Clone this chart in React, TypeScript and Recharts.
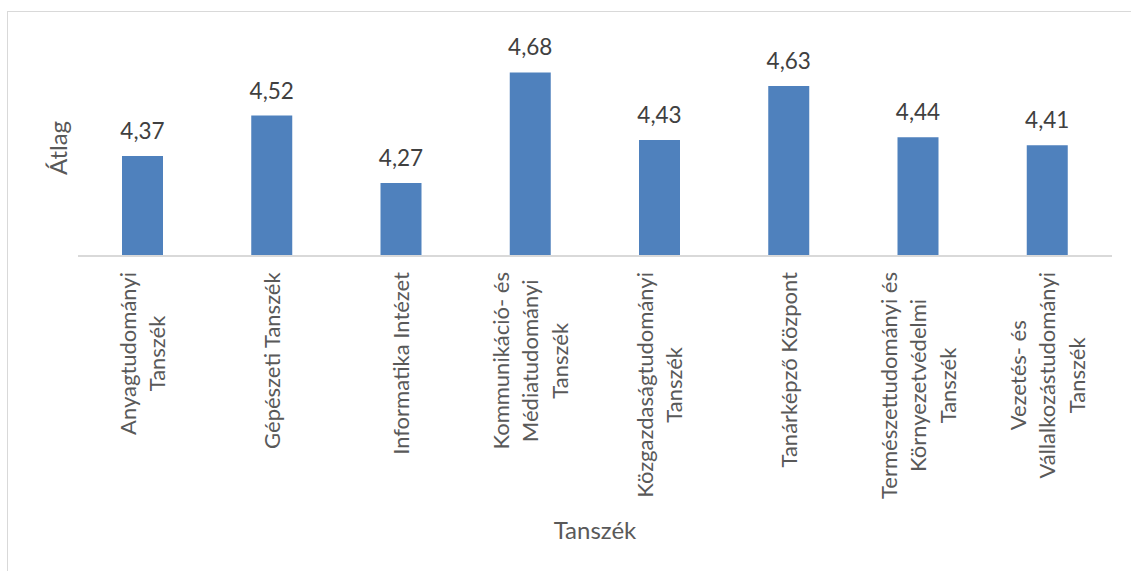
import React from 'react';
import { BarChart, Bar, XAxis, YAxis, LabelList, Label } from 'recharts';

// department names, split the way the reference wraps them
const categoryLines: string[][] = [
  ['Anyagtudományi', 'Tanszék'],
  ['Gépészeti Tanszék'],
  ['Informatika Intézet'],
  ['Kommunikáció- és', 'Médiatudományi', 'Tanszék'],
  ['Közgazdaságtudományi', 'Tanszék'],
  ['Tanárképző Központ'],
  ['Természettudományi és', 'Környezetvédelmi', 'Tanszék'],
  ['Vezetés- és', 'Vállalkozástudományi', 'Tanszék'],
];
const categories = categoryLines.map((l) => l.join(' '));
const averages = [4.37, 4.52, 4.27, 4.68, 4.43, 4.63, 4.44, 4.41];
const yDomain: [number, number] = [4, 4.8];

const data = categories.map((name, i) => ({ name, value: averages[i] }));

const FONT = 'Lato, sans-serif';

let ctx: CanvasRenderingContext2D | null = null;
function textWidth(s: string, size: number) {
  if (!ctx) ctx = document.createElement('canvas').getContext('2d');
  if (!ctx) return s.length * size * 0.5;
  ctx.font = `${size}px Lato`;
  return ctx.measureText(s).width;
}

function DeptTick({ x, y, payload }: any) {
  const idx = categories.indexOf(payload.value);
  const lines = idx >= 0 ? categoryLines[idx] : [String(payload.value)];
  const size = 22;
  const lh = 29.5;
  const maxLen = Math.max(...lines.map((l) => textWidth(l, size)));
  const cy = y + 8 + maxLen / 2;
  const n = lines.length;
  return (
    <text
      transform={`rotate(-90, ${x}, ${cy})`}
      x={x}
      y={cy}
      textAnchor="middle"
      fill="#595959"
      fontSize={size}
      fontFamily={FONT}
    >
      {lines.map((l, i) => (
        <tspan key={i} x={x} y={cy + (i - (n - 1) / 2) * lh + size * 0.36}>
          {l}
        </tspan>
      ))}
    </text>
  );
}

export default function App() {
  return (
    <div
      style={{
        position: 'fixed',
        left: 0,
        top: 0,
        width: 1131,
        height: 571,
        overflow: 'hidden',
        background: '#ffffff',
      }}
    >
      <div
        style={{
          position: 'absolute',
          left: 7,
          top: 11,
          width: 1160,
          height: 600,
          border: '1px solid #d9d9d9',
        }}
      />
      <div style={{ position: 'absolute', left: 0, top: 0 }}>
        <BarChart
          width={1131}
          height={571}
          data={data}
          margin={{ top: 40, right: 19, bottom: 0, left: 0 }}
          style={{ fontFamily: FONT }}
        >
          <YAxis
            domain={yDomain}
            width={78}
            axisLine={false}
            tickLine={false}
            tick={false}
            allowDataOverflow
          >
            <Label value="Átlag" angle={-90} position="center" dx={19} fill="#595959" fontSize={24} />
          </YAxis>
          <XAxis
            dataKey="name"
            interval={0}
            height={315}
            tickLine={false}
            axisLine={{ stroke: '#d9d9d9', strokeWidth: 2 }}
            tick={<DeptTick />}
          >
            <Label value="Tanszék" position="insideBottom" offset={32} fill="#595959" fontSize={24} />
          </XAxis>
          <Bar dataKey="value" fill="#4f81bd" barSize={41} isAnimationActive={false}>
            <LabelList
              dataKey="value"
              position="top"
              offset={17}
              fill="#404040"
              fontSize={22.5}
              formatter={(v: any) => Number(v).toFixed(2).replace('.', ',')}
            />
          </Bar>
        </BarChart>
      </div>
    </div>
  );
}
